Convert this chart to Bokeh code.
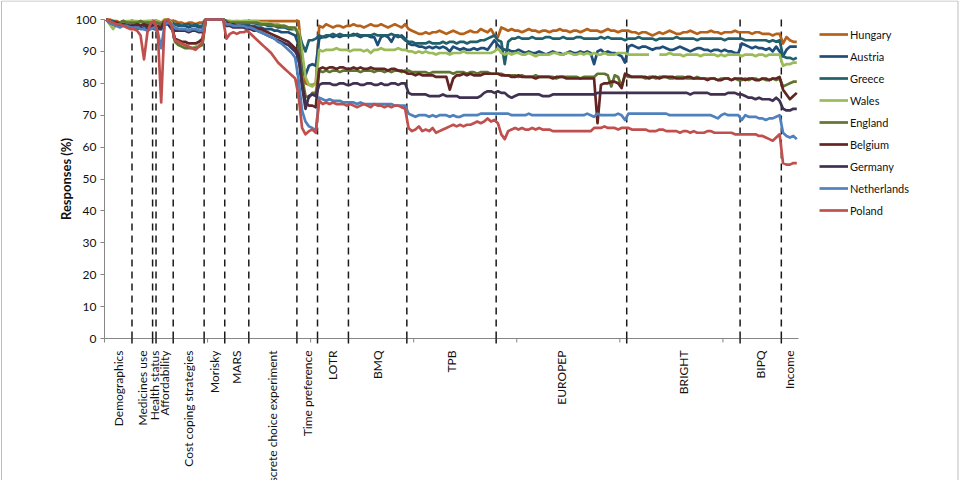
import numpy as np
from math import pi
from bokeh.plotting import figure
from bokeh.models import Range1d, FixedTicker, Legend, LegendItem
from bokeh.core.properties import value
from bokeh.embed import file_html
from bokeh.resources import INLINE

nan = float("nan")

# Questionnaire sections and the number of items in each
sections = ["Demographics", "Medicines use", "Health status", "Affordability",
            "Cost coping strategies", "Morisky", "MARS",
            "Discrete choice experiment", "Time preference", "LOTR", "BMQ",
            "TPB", "EUROPEP", "BRIGHT", "BIPQ", "Income"]
section_sizes = [8, 6, 1, 5, 9, 6, 7, 14, 6, 9, 17, 26, 38, 33, 12, 5]
y_ticks = [0, 10, 20, 30, 40, 50, 60, 70, 80, 90, 100]

# Response rates (%) per item, grouped by section
hungary = [
    [100, 100, 99.5, 99.5, 99, 99.5, 99, 99.5],
    [99.5, 99, 99.5, 99, 99.5, 99.5],
    [99.5],
    [99.5, 99, 100, 100, 99.5],
    [99.5, 99, 99, 98.5, 99, 99, 98.5, 99, 99],
    [100, 100, 100, 100, 100, 100],
    [99.5, 99.5, 99, 99.5, 99, 99.5, 99.5],
    [99.5, 99.5, 99.5, 99.5, 99.5, 99.5, 99.5, 99.5, 99.5, 99.5, 99.5, 99.5, 99.5, 99.5],
    [99.5, 88, 80, 79.5, 79.5, 80],
    [98, 97.5, 98.5, 98, 97.5, 98, 98, 97.5, 98],
    [98, 98.5, 98, 98, 97.5, 98, 98.5, 98, 98, 98.5, 98, 97.5, 98, 98.5, 98, 97.5, 98.5],
    [97, 96.5, 96, 95.5, 95.5, 96, 95.5, 96, 96, 96.5, 96, 95.5, 96, 96.5, 96, 95.5,
     95.5, 96, 96.5, 96, 96, 97, 96.5, 96, 97, 95],
    [94.5, 97.5, 97, 96.5, 97, 96.5, 96.5, 96, 96.5, 97, 96.5, 96.5, 96, 96.5, 96.5,
     96, 96.5, 96.5, 97, 96.5, 96.5, 96, 96.5, 96.5, 96, 96.5, 97, 96.5, 96.5, 96.5,
     96, 96.5, 97, 96.5, 96.5, 96, 96.5, 96.5],
    [96.5, 96, 96, 95.5, 96, 96, 95.5, 95, 95.5, 96, 95.5, 96, 96.5, 96, 95.5, 95.5,
     96, 96, 96.5, 96, 95.5, 96, 96, 96, 96.5, 96, 96, 95.5, 96, 96, 96, 96.5, 96],
    [96, 96, 96, 95.5, 96, 96, 95.5, 95.5, 95.5, 95, 95.5, 95.5],
    [92.5, 94.5, 93.5, 93, 93],
]
austria = [
    [100, 99.5, 99, 98.5, 98.5, 99, 98.5, 98],
    [98.5, 98, 98.5, 98, 97.5, 98],
    [98],
    [97.5, 97, 99, 99.5, 99],
    [98.5, 98, 98, 98, 97.5, 98, 98, 97.5, 97.5],
    [100, 100, 100, 100, 100, 100],
    [99, 98.5, 98.5, 98, 98, 98.5, 98],
    [98, 98, 97.5, 97.5, 97, 97, 97, 96.5, 96.5, 96, 96, 96, 95.5, 95],
    [92, 84, 82.5, 85.5, 86, 85.5],
    [94, 94.5, 94.5, 95, 94.5, 95, 94.5, 95, 95],
    [95, 95.5, 95, 94.5, 95, 95, 94.5, 94.5, 92, 94.5, 95, 94.5, 93, 95, 94.5, 95, 94],
    [92.5, 92, 92, 91.5, 91.5, 91, 91.5, 91, 91.5, 91, 91.5, 91, 90, 91.5, 91, 90.5,
     91, 90.5, 90.5, 91, 90.5, 91, 91, 90.5, 92, 93.5],
    [92, 91, 90.5, 90.5, 90, 90, 90.5, 90, 89.5, 90, 89.5, 89.5, 90, 89.5, 89, 89.5,
     90, 89.5, 89.5, 89, 89.5, 90, 89.5, 89.5, 90, 89.5, 90, 89.5, 86, 90, 90.5, 89.5,
     90, 89.5, 89.5, 89, 88.5, 86.5],
    [91.5, 92, 91.5, 91, 91.5, 91.5, 91, 90.5, 91, 91, 91.5, 91, 90.5, 90.5, 91, 91.5,
     91, 90.5, 90, 90.5, 91, 91, 90.5, 90.5, 90, 90.5, 90.5, 90, 90.5, 90, 90, 89.5, 89.5],
    [92.5, 92, 91.5, 91, 91.5, 91, 91, 90.5, 91, 90, 91.5, 90],
    [88.5, 90.5, 91.5, 91.5, 91.5],
]
greece = [
    [100, 99.5, 99.5, 99, 99, 99.5, 99, 99],
    [99, 98.5, 99, 98.5, 98.5, 99],
    [99],
    [99, 98.5, 99.5, 99.5, 99],
    [98.5, 98.5, 98, 98.5, 98.5, 98, 98.5, 98, 98],
    [100, 100, 100, 100, 100, 100],
    [99.5, 99, 99, 99, 99, 99, 98.5],
    [99, 99, 98.5, 98.5, 98.5, 98, 98, 98, 97.5, 97.5, 97.5, 97, 97, 97],
    [96, 92.5, 90, 93.5, 93.5, 94],
    [95, 94.5, 95, 95, 95.5, 95, 95.5, 95, 95],
    [95, 95, 95.5, 95, 95, 95, 95, 95.5, 95, 95, 95, 95, 95.5, 95, 95, 94.5, 93.5],
    [93, 93, 92.5, 92.5, 92.5, 92.5, 93, 92.5, 92.5, 92.5, 93, 92.5, 93, 93, 92.5, 93,
     93, 92.5, 93, 93, 93, 93.5, 93.5, 94, 94.5, 95],
    [93.5, 93, 86, 93, 94, 94, 94.5, 94, 94, 94, 94.5, 94, 94, 94, 94.5, 94.5, 94, 94,
     94, 94.5, 94, 94, 94, 94.5, 94.5, 94, 94, 94, 94, 94, 94.5, 94, 94.5, 94, 94, 94,
     94, 93.5],
    [94, 94, 94, 94.5, 94, 94, 94, 94, 93.5, 94, 94, 94, 94, 94, 94.5, 94, 94, 94, 94,
     94, 93.5, 94, 94, 94, 94, 94, 94, 94, 93.5, 94, 94, 94, 94],
    [94, 93.5, 93.5, 93.5, 93.5, 93.5, 93.5, 93.5, 93, 93.5, 93, 93.5],
    [88.5, 88, 88, 87.5, 88],
]
wales = [
    [100, 98.5, 97, 98.5, 99, 99, 99.5, 99.5],
    [99.5, 99.5, 99, 99.5, 99.5, 99.5],
    [99.5],
    [99.5, 98.5, 100, 100, 99],
    [93.5, 92.5, 92, 91.5, 91.5, 91, 91.5, 92, 92.5],
    [100, 100, 100, 100, 100, 100],
    [99.5, 99.5, 99.5, 99.5, 99.5, 99.5, 99.5],
    [99.5, 99.5, 99.5, 99, 99, 99, 98.5, 98.5, 98.5, 98, 98, 97.5, 97.5, 97],
    [96.5, 90, 82, 79.5, 79, 80],
    [90.5, 90, 90.5, 90.5, 90.5, 91, 90.5, 90.5, 90.5],
    [90, 90.5, 90.5, 90.5, 90, 90.5, 89.5, 90.5, 90.5, 91, 90.5, 90.5, 90.5, 90.5, 91, 90.5, 90.5],
    [90, 90, 89.5, 90, 89.5, 90, 89.5, 89.5, 89, 89.5, 89.5, 89.5, 89, 89.5, 89.5, 89.5,
     90, 89.5, 89.5, 89.5, 89.5, 89.5, 89.5, 89.5, 89.5, 90],
    [91, 89.5, 89, 89.5, 89, 89.5, 89.5, 89, 89, 89.5, 89, 88.5, 89, 89, 89, 89, 89.5,
     89.5, 89, 89, 89.5, 89.5, 89, 89, 89.5, 89, 89.5, 89, 89.5, 89, 89, 89.5, 89, 89,
     89, 89.5, 89.5, 89.5],
    [89, 89, 89, 89, 89, 89, 89, nan, nan, 89, 89, 89, 89.5, 89, 89, 89, 88.5, 89, 89,
     89, 89, 88.5, 89, 89, 89, 89, 88.5, 89, 88.5, 89, 89, 89, 89],
    [88.5, 89, 89, 89, 88.5, 89, 89, 88.5, 89, 89, 89, 89],
    [85.5, 86, 86, 86.5, 86.5],
]
england = [
    [100, 99.5, 98.5, 99, 99, 99.5, 99, 99],
    [99, 99, 99.5, 99, 99, 99],
    [99],
    [99, 98.5, 99.5, 99.5, 98.5],
    [93, 92, 91.5, 91, 91, 91, 91, 91.5, 92],
    [100, 100, 100, 100, 100, 100],
    [99.5, 99, 99, 99, 99, 99, 99],
    [99, 99, 99, 98.5, 98.5, 98.5, 98.5, 98, 98, 98, 98, 97.5, 97.5, 97.5],
    [95, 82, 76, 75.5, 77, 77],
    [84, 83.5, 84, 83.5, 84, 84, 83.5, 84, 84],
    [84, 84, 84, 83.5, 84, 84, 84, 83.5, 84, 84, 83.5, 84, 83.5, 84, 84, 83.5, 84],
    [84, 83.5, 83.5, 83.5, 83.5, 83.5, 83, 83.5, 83.5, 83.5, 83.5, 83.5, 83.5, 83, 83.5,
     83.5, 83.5, 83, 83.5, 83.5, 83, 83.5, 83.5, 83.5, 83, 83],
    [83, 83, 82.5, 82.5, 82.5, 82.5, 82, 82.5, 82, 82, 82, 82.5, 82, 82, 82, 82, 82,
     81.5, 82, 82, 82, 82, 82, 82, 81.5, 82, 82, 82, 82, 83, 83, 83, 82.5, 79, 82.5, 82,
     79, 82.5],
    [82, 82, 82, 82, 82, 81.5, 82, 82, 81.5, 82, 82, 82, 81.5, 81.5, 82, 82, 82, 81.5,
     81.5, 81.5, 82, 81.5, 81.5, 81.5, 81.5, 81.5, 81, 81.5, 81.5, 81.5, 81, 81.5, 81],
    [81, 81.5, 81, 81.5, 81.5, 81, 81.5, 81, 81, 81.5, 81, 81.5],
    [79, 79.5, 80, 80.5, 80.5],
]
belgium = [
    [100, 99.5, 99, 99, 98.5, 98.5, 98, 98],
    [98, 98.5, 98, 98.5, 98, 98],
    [98],
    [98, 97.5, 99.5, 99.5, 98],
    [94, 93.5, 93, 93, 92.5, 92.5, 92.5, 93, 94],
    [100, 100, 100, 100, 100, 100],
    [99, 98.5, 98.5, 98, 98, 98, 97.5],
    [97.5, 97.5, 97, 97, 96.5, 96, 95.5, 95, 94.5, 94, 93.5, 93, 92, 91],
    [89, 80, 74, 73, 73, 72.5],
    [84.5, 85, 84.5, 85, 85, 84.5, 85, 85, 84.5],
    [84.5, 85, 84.5, 85, 84.5, 84.5, 85, 84.5, 84.5, 84.5, 84.5, 84, 84.5, 84.5, 84, 84, 83.5],
    [83, 83, 82.5, 83, 82.5, 82.5, 82.5, 82.5, 82, 82, 82, 82, 78, 81.5, 82.5, 82.5, 83,
     82.5, 83, 82.5, 82.5, 82.5, 83, 83, 83, 83],
    [83, 82.5, 82.5, 82.5, 82, 82, 82.5, 82, 82, 82, 82, 81.5, 82, 82, 82, 82, 81.5, 82,
     82, 82, 81.5, 81.5, 81.5, 81.5, 81.5, 81.5, 81.5, 81.5, 81.5, 67.5, 79.5, 80, 80,
     80.5, 80.5, 80, 78.5, 83],
    [82.5, 82, 82, 82, 82, 82, 81.5, 82, 82, 81.5, 82, 82, 82, 82, 81.5, 81.5, 81.5, 82,
     82, 81.5, 81.5, 81.5, 81.5, 81, 81.5, 81.5, 81, 81, 81.5, 81.5, 81, 81.5, 81.5],
    [81.5, 81, 81.5, 81.5, 81, 81, 81.5, 81.5, 81, 81.5, 81.5, 82],
    [78, 76.5, 75, 76, 77],
]
germany = [
    [100, 99, 98.5, 98, 98, 98.5, 98, 97.5],
    [97.5, 97, 97.5, 97, 97, 97.5],
    [97],
    [97, 97, 98.5, 98.5, 97],
    [96.5, 96.5, 96.5, 96.5, 96, 96.5, 96.5, 96, 96],
    [100, 100, 100, 100, 100, 100],
    [98, 98, 97.5, 97.5, 97.5, 97.5, 97],
    [97, 96.5, 96.5, 96, 95.5, 95, 94.5, 94, 93.5, 93, 92.5, 92, 91, 90],
    [88, 79, 72, 76, 76.5, 76],
    [79.5, 80, 80, 80, 79.5, 79.5, 80, 80, 79.5],
    [79.5, 80, 80, 79.5, 79.5, 80, 80, 79.5, 79.5, 80, 79.5, 79.5, 80, 80, 79.5, 80, 80],
    [77, 76.5, 76.5, 76.5, 76.5, 76.5, 76, 76, 76, 76, 76.5, 76, 76, 76, 76, 75.5, 75.5,
     75.5, 75.5, 75.5, 75.5, 76, 77, 77.5, 77.5, 77],
    [77.5, 77, 77, 76, 75.5, 76, 76.5, 76.5, 76.5, 76.5, 76.5, 76.5, 76.5, 76, 76, 76,
     76.5, 76.5, 76.5, 76.5, 76.5, 76.5, 76.5, 76.5, 76.5, 76.5, 76.5, 76.5, 76.5, 77,
     77, 77, 77, 77, 77, 77, 77, 77],
    [77, 77, 77, 77, 77, 77, 77, 77, 77, 77, 77, 77, 77, 77, 77, 77, 77, 77, 76.5, 77,
     77, 77, 77, 77, 76.5, 76.5, 76.5, 76.5, 76.5, 77, 77, 77, 76.5],
    [76.5, 76, 75.5, 75.5, 75, 75.5, 75, 75, 75, 74.5, 75.5, 74.5],
    [72, 71.5, 71.5, 72, 72],
]
netherlands = [
    [100, 99, 98.5, 98, 97.5, 98, 98, 97.5],
    [97.5, 97.5, 97, 97, 96.5, 97],
    [97.5],
    [96, 91, 98.5, 99, 98.5],
    [97.5, 97, 97, 97, 96.5, 97, 97, 96.5, 96.5],
    [100, 100, 100, 100, 100, 100],
    [98.5, 98.5, 98, 98, 98, 98, 97.5],
    [97.5, 97, 96.5, 96, 95.5, 95, 94.5, 94, 93, 92.5, 91.5, 90.5, 89.5, 88],
    [81, 71.5, 68, 66.5, 66, 65],
    [75.5, 75, 74.5, 75, 74.5, 74.5, 74.5, 74, 74],
    [74, 74, 73.5, 74, 73.5, 73.5, 73.5, 73.5, 73.5, 73.5, 73.5, 73.5, 73.5, 73, 73, 73, 73],
    [70.5, 70, 69.5, 70, 70, 70, 69.5, 70, 69.5, 70, 70, 70, 69.5, 70, 69.5, 69.5, 70,
     70, 70, 70, 70, 70.5, 70.5, 70.5, 70.5, 70.5],
    [70.5, 70.5, 70.5, 70.5, 70, 70, 70, 70, 70, 70.5, 70, 70, 70, 70, 70, 70, 70, 70, 70,
     70, 70, 70, 70, 70, 70, 70, 70.5, 70, 69.5, 70.5, 70, 70, 70, 70, 70, 70.5, 70, 68.5],
    [70.5, 70.5, 70.5, 70.5, 70.5, 70.5, 70.5, 70.5, 70.5, 70.5, 70.5, 70.5, 70, 70, 70,
     70, 70, 70, 70, 70, 70, 70, 70, 70, 70, 69.5, 69, 70, 70.5, 70, 70, 70, 70],
    [68.5, 70, 69.5, 69.5, 69.5, 69, 69, 68.5, 69, 69, 69.5, 70],
    [64.5, 63.5, 63, 63.5, 62.5],
]
poland = [
    [100, 99.5, 99, 98.5, 98.5, 98, 97.5, 97],
    [97, 96.5, 95, 87.5, 96, 99],
    [99.5],
    [96, 74, 99.5, 100, 98],
    [93.5, 93, 92.5, 92, 91.5, 91, 90.5, 91.5, 93],
    [100, 100, 100, 100, 100, 100],
    [94, 95.5, 96, 95.5, 96, 96, 96.5],
    [95.5, 94.5, 93.5, 92.5, 91.5, 90.5, 89.5, 88, 86.5, 85.5, 84.5, 83.5, 82.5, 81.5],
    [76, 66, 64, 65, 65.5, 64.5],
    [74.5, 73.5, 74, 73.5, 74, 73.5, 73.5, 73.5, 73],
    [73.5, 73, 72.5, 73, 73.5, 73, 72.5, 73.5, 73, 73, 72.5, 73, 72.5, 73, 73, 72.5, 72],
    [66, 65, 65.5, 66.5, 65, 65.5, 65, 66, 64.5, 65, 65.5, 66, 66.5, 67, 66.5, 67, 66.5,
     67, 67, 67.5, 68, 67.5, 68, 69, 68, 68.5],
    [67.5, 64, 62.5, 65, 65.5, 66, 65.5, 66, 65.5, 65.5, 66, 65.5, 66, 65.5, 65.5, 65.5,
     65, 65, 65, 65, 65, 65, 65, 65, 65, 65, 65, 65, 66, 66, 66, 66.5, 66, 66, 66, 65.5,
     66, 66],
    [66, 65.5, 65.5, 65.5, 65.5, 65.5, 65, 65, 65, 65.5, 65.5, 65, 65, 65, 65, 64.5, 65,
     65, 64.5, 65, 64.5, 64.5, 64.5, 65, 65, 64.5, 64.5, 64.5, 64.5, 64.5, 64.5, 64, 64],
    [64, 64, 64, 64, 64, 63.5, 63.5, 63, 62.5, 62, 63, 64],
    [55, 54.5, 54.5, 55, 55],
]

countries = ["Hungary", "Austria", "Greece", "Wales", "England", "Belgium",
             "Germany", "Netherlands", "Poland"]
colors = ["#B5611A", "#1F4E79", "#215F6B", "#9BBB59", "#5F7530", "#632523",
          "#403152", "#4F81BD", "#C0504D"]
series = [hungary, austria, greece, wales, england, belgium, germany,
          netherlands, poland]

n_items = sum(section_sizes)
x = np.arange(1, n_items + 1)
edges = np.cumsum(section_sizes)
boundaries = [float(e) + 0.5 for e in edges[:-1]]
centers = [float(e) - s / 2 + 0.5 for e, s in zip(edges, section_sizes)]
grey_ticks = [0.5 + 30 * k for k in range(7)]

FONT = "Lato"
W, H = 959, 480
LEFT, TOP = 104, 19                # canvas position of the data area
PLOT_W, PLOT_H = 694, 319          # size of the 0-100 data area in pixels
px_x = PLOT_W / n_items            # pixels per item
px_y = PLOT_H / 100.0              # pixels per percent

# The frame fills the whole canvas so that section names, axis title and
# legend around the data area are drawn as ordinary glyphs.
x0 = 0.5 - LEFT / px_x
x1 = 0.5 + (W - LEFT) / px_x
y1 = 100 + TOP / px_y
y0 = 100 - (H - TOP) / px_y

p = figure(width=W, height=H, output_backend="svg", toolbar_location=None,
           x_range=Range1d(x0, x1), y_range=Range1d(y0, y1),
           min_border_left=0, min_border_right=0, min_border_top=0,
           min_border_bottom=0)
p.outline_line_color = None
p.xgrid.visible = False
p.ygrid.visible = False
p.xaxis.visible = False
p.background_fill_color = "white"
p.border_fill_color = "white"

# Y axis pinned to the left edge of the data area
yax = p.yaxis[0]
yax.fixed_location = 0.5
yax.bounds = (0, 100)
yax.ticker = FixedTicker(ticks=y_ticks)
yax.axis_line_color = "#868686"
yax.major_tick_line_color = "#868686"
yax.major_tick_out = 4
yax.major_tick_in = 0
yax.minor_tick_line_color = None
yax.major_label_text_font = FONT
yax.major_label_text_font_size = "12px"
yax.major_label_text_color = "#111111"
yax.major_label_standoff = 4

p.text(x=[0.5 - 39 / px_x], y=[50], text=["Responses (%)"], angle=pi / 2,
       text_align="center", text_baseline="middle", text_font=value(FONT),
       text_font_size="13px", text_font_style="bold", text_color="#111111")

# Category axis line with its tick marks
tick_dark = 5 / px_y
tick_grey = 4 / px_y
p.segment(x0=[0.5], y0=[0], x1=[n_items + 0.5], y1=[0], line_color="#868686",
          line_width=1)
p.segment(x0=grey_ticks, y0=[0] * len(grey_ticks), x1=grey_ticks,
          y1=[-tick_grey] * len(grey_ticks), line_color="#868686", line_width=1)
p.segment(x0=boundaries, y0=[0] * len(boundaries), x1=boundaries,
          y1=[-tick_dark] * len(boundaries), line_color="#1a1a1a", line_width=1.5)

# Section separators
p.segment(x0=boundaries, y0=[0] * len(boundaries), x1=boundaries,
          y1=[100] * len(boundaries), line_color="#1a1a1a", line_width=1.5,
          line_dash="7 5")

items = []
for name, color, data in zip(countries, colors, series):
    flat = [v for sec in data for v in sec]
    assert len(flat) == n_items, (name, len(flat))
    r = p.line(x, flat, line_color=color, line_width=2.7, line_join="round")
    items.append(LegendItem(label=name, renderers=[r]))

# Legend to the right of the data area
legend = Legend(items=items, location=(819, H - 220), padding=0, margin=0,
                spacing=2, glyph_width=29, glyph_height=20, label_height=20,
                label_standoff=2, label_text_font=FONT,
                label_text_font_size="11px", label_text_color="#111111",
                border_line_color=None, background_fill_alpha=0)
p.add_layout(legend)

# Section names under the category axis
p.text(x=centers, y=[-12 / px_y] * len(centers), text=sections, angle=pi / 2,
       text_align="right", text_baseline="middle", text_font=value(FONT),
       text_font_size="12px", text_color="#111111")

# Thin frame around the figure
bx0 = x0 + 1.0 / px_x
bx1 = x1 - 1.5 / px_x
by1 = y1 - 0.5 / px_y
p.segment(x0=[bx0, bx0, bx1], y0=[y0, by1, by1], x1=[bx0, bx1, bx1],
          y1=[by1, by1, y0], line_color="#BDBDBD", line_width=1)

open("out.html", "w").write(file_html(p, INLINE))
